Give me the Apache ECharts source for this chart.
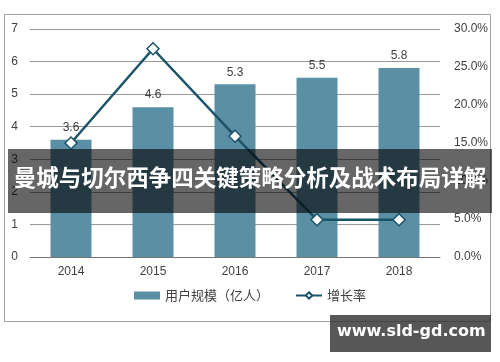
<!DOCTYPE html>
<html><head><meta charset="utf-8">
<script src="https://cdn.jsdelivr.net/npm/echarts@6/dist/echarts.min.js"></script>
<style>html,body{margin:0;padding:0;background:#fff}#c{width:500px;height:362px}</style>
</head><body><div id="c"></div>
<script>
const categories = ['2014','2015','2016','2017','2018'];
const userScale = [3.6, 4.6, 5.3, 5.5, 5.8];
const growthRate = [15.0, 27.4, 15.9, 4.9, 4.9];
const leftTicks = {min:0, max:7, interval:1};
const rightTicks = {min:0, max:30, interval:5};
const seriesNames = ['用户规模（亿人）','增长率'];
const bannerTitle = '曼城与切尔西争四关键策略分析及战术布局详解';
const siteMark = 'www.sld-gd.com';

const chart = echarts.init(document.getElementById('c'), null, {renderer:'canvas'});
const font = '"Liberation Sans", Arial, sans-serif';
chart.setOption({
  animation:false,
  backgroundColor:'#fff',
  grid:{left:30, right:60, top:29, bottom:105},
  legend:{
    bottom:55, left:'center', itemGap:26, itemWidth:26, itemHeight:8,
    textStyle:{color:'#404040', fontSize:13, fontFamily:'"Noto Sans CJK SC", sans-serif'},
    data:[{name:seriesNames[0], icon:'rect'},{name:seriesNames[1]}]
  },
  xAxis:{
    type:'category', data:categories,
    axisLine:{lineStyle:{color:'#777', width:1}},
    axisTick:{show:false},
    axisLabel:{color:'#404040', fontSize:12, fontFamily:font, margin:9}
  },
  yAxis:[
    {type:'value', min:leftTicks.min, max:leftTicks.max, interval:leftTicks.interval,
     axisLine:{show:false}, axisTick:{show:false},
     axisLabel:{color:'#404040', fontSize:12, fontFamily:font, margin:12},
     splitLine:{lineStyle:{color:'#999', width:1}}},
    {type:'value', min:rightTicks.min, max:rightTicks.max, interval:rightTicks.interval,
     axisLine:{show:false}, axisTick:{show:false},
     axisLabel:{color:'#404040', fontSize:12, fontFamily:font, margin:14, formatter:v=>v.toFixed(1)+'%'},
     splitLine:{show:false}}
  ],
  series:[
    {name:seriesNames[0], type:'bar', data:userScale, barWidth:41,
     itemStyle:{color:'#5b8fa4'},
     label:{show:true, position:'top', color:'#404040', fontSize:12, fontFamily:font, distance:6}},
    {name:seriesNames[1], type:'line', yAxisIndex:1, data:growthRate,
     lineStyle:{color:'#1a5468', width:2.5},
     symbol:'diamond', symbolSize:12,
     itemStyle:{color:'#fff', borderColor:'#1a5468', borderWidth:1.5}}
  ],
  graphic:[
    {type:'rect', z:100, shape:{x:4.5, y:14.5, width:486, height:307}, style:{fill:'none', stroke:'#a0a0a0', lineWidth:1}},
    {type:'rect', z:101, shape:{x:8, y:149, width:484, height:64}, style:{fill:'rgba(0,0,0,0.6)'}},
    {type:'text', z:102, left:'center', top:166, style:{text:bannerTitle, fill:'#fff', font:'bold 22.5px "Noto Sans CJK SC", sans-serif'}},
    {type:'rect', z:101, shape:{x:330, y:315, width:161, height:37}, style:{fill:'rgba(50,50,50,0.82)'}},
    {type:'text', z:102, left:337, top:324, style:{text:siteMark, fill:'#fff', font:'bold 16px "DejaVu Sans", sans-serif'}}
  ]
});
</script></body></html>
